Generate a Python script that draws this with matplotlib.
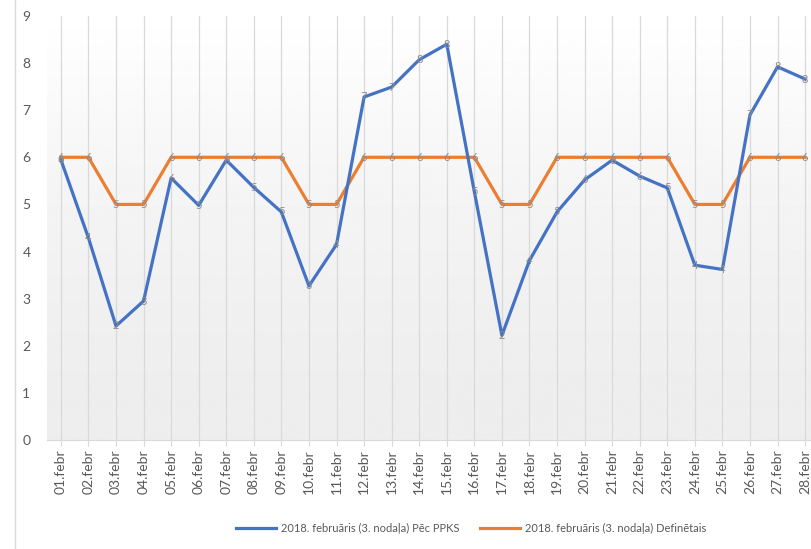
import numpy as np
import matplotlib.pyplot as plt
from matplotlib.lines import Line2D

plt.rcParams['font.family'] = ['Lato', 'DejaVu Sans']

days = ['%02d.febr' % d for d in range(1, 29)]
pec_ppks = [5.95, 4.29, 2.42, 2.95, 5.56, 4.98, 5.94, 5.36, 4.84, 3.27, 4.15, 7.28,
            7.49, 8.07, 8.40, 5.27, 2.22, 3.81, 4.84, 5.52, 5.94, 5.60, 5.35, 3.71,
            3.62, 6.90, 7.92, 7.66]
definetais = [6, 6, 5, 5, 6, 6, 6, 6, 6, 5, 5, 6, 6, 6, 6, 6, 5, 5, 6, 6, 6, 6, 6, 5,
              5, 6, 6, 6]
labels = ['2018. februāris (3. nodaļa) Pēc PPKS',
          '2018. februāris (3. nodaļa) Definētais']

fig = plt.figure(figsize=(8.12, 5.49), dpi=100)
ax = fig.add_axes([0.058, 0.1985, 0.942, 0.7725])
x = np.arange(len(days))

# gradient background, gray at the bottom fading to white at the top
t = np.linspace(0, 1, 256).reshape(-1, 1)
grad = 0.93 + 0.07 * t ** 1.6
ax.imshow(grad, cmap='gray', vmin=0, vmax=1, aspect='auto', origin='lower',
          extent=[-0.5, 27.25, 0, 9], zorder=0)

for xi in x:
    ax.axvline(xi, color='#d9d9d9', lw=0.9, zorder=1)

ax.plot(x, pec_ppks, color='#4472C4', lw=2.3, label=labels[0], zorder=3,
        solid_joinstyle='round')
ax.plot(x, definetais, color='#ED7D31', lw=2.3, label=labels[1], zorder=2,
        solid_joinstyle='round')

for xi, v in zip(x, pec_ppks):
    ax.text(xi, v, '%d' % round(v), ha='center', va='center', fontsize=8,
            color='#8c8c8c', zorder=4)
for xi, v in zip(x, definetais):
    ax.text(xi, v, '%d' % v, ha='center', va='center', fontsize=8,
            color='#8c8c8c', zorder=4)

ax.set_xlim(-0.5, 27.25)
ax.set_ylim(0, 9)
ax.set_yticks(range(10))
ax.set_xticks(x)
ax.set_xticklabels(days, rotation=90, fontsize=10, color='#595959')
ax.tick_params(axis='y', labelsize=10, colors='#595959', length=0, pad=12)
ax.tick_params(axis='x', length=4, color='#d9d9d9', pad=3)
for s in ['top', 'right', 'left']:
    ax.spines[s].set_visible(False)
ax.spines['bottom'].set_color('#d9d9d9')

fig.add_artist(Line2D([15 / 812, 15 / 812], [0, 1], color='#d9d9d9', lw=1))

ax.legend(loc='center', bbox_to_anchor=(471 / 812, 1 - 528 / 549),
          bbox_transform=fig.transFigure, ncol=2, frameon=False, fontsize=8,
          labelcolor='#595959', handlelength=3.6, handletextpad=0.5,
          columnspacing=1.8)

fig.savefig('out.png', dpi=100)
